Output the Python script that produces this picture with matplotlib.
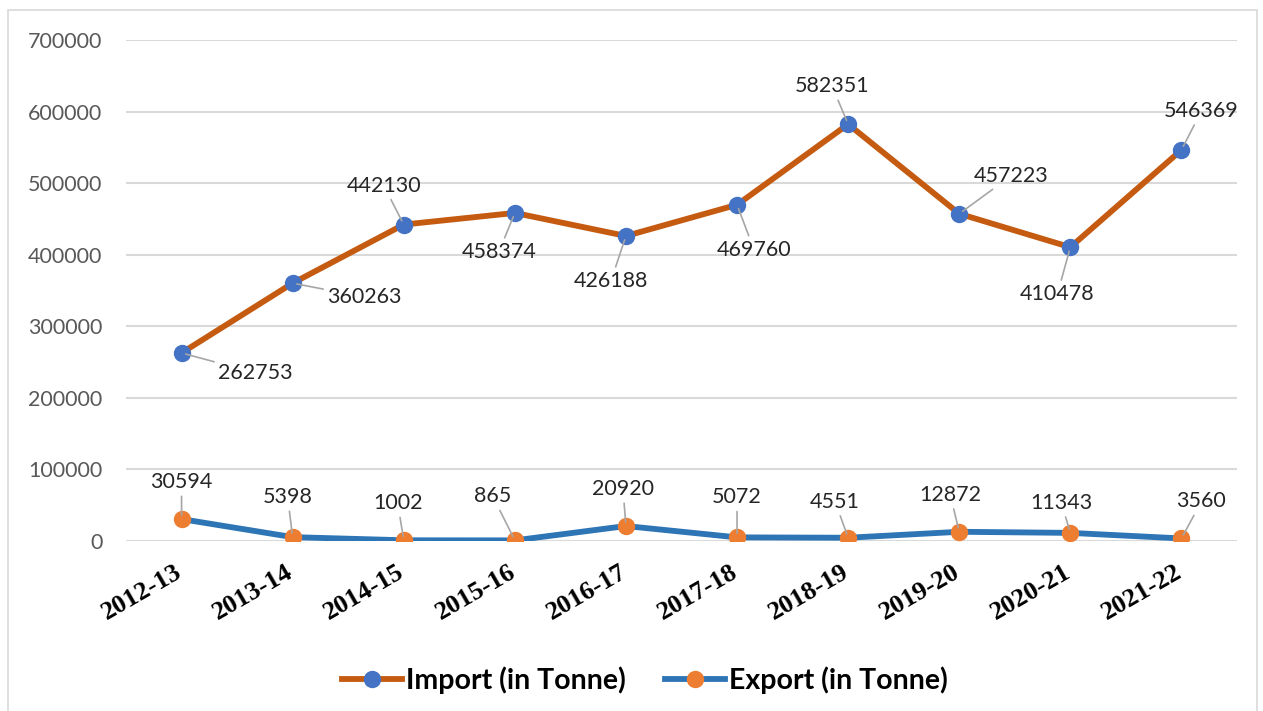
import matplotlib.pyplot as plt
from matplotlib.lines import Line2D
from matplotlib.patches import Rectangle
from matplotlib.transforms import ScaledTranslation

years = ['2012-13', '2013-14', '2014-15', '2015-16', '2016-17',
         '2017-18', '2018-19', '2019-20', '2020-21', '2021-22']
imports = [262753, 360263, 442130, 458374, 426188, 469760, 582351, 457223, 410478, 546369]
exports = [30594, 5398, 1002, 865, 20920, 5072, 4551, 12872, 11343, 3560]

# label offsets from the markers, in pixels
imp_off = [(74, -20), (72, -14), (-20, 39), (-16, -39), (-15, -45),
           (17, -45), (-16, 38), (52, 38), (-13, -47), (20, 39)]
exp_off = [(0, 37), (-5, 40), (-6, 37), (-22, 44), (-3, 37),
           (0, 40), (-13, 36), (-9, 37), (-9, 30), (20, 37)]

imp_line = '#C55A11'
imp_mark = '#4472C4'
exp_line = '#2E75B6'
exp_mark = '#ED7D31'

plt.rcParams['font.family'] = ['Lato', 'DejaVu Sans']

fig = plt.figure(figsize=(12.63, 7.11), dpi=100)
fig.patches.append(Rectangle((8 / 1263, -0.05), 1249 / 1263, 1 - 10 / 711 + 0.05,
                             transform=fig.transFigure, fill=False,
                             edgecolor='#D9D9D9', lw=1.2))

ax = fig.add_axes([126 / 1263, 1 - 541 / 711, 1111 / 1263, 501 / 711])
x = range(len(years))

ax.plot(x, imports, color=imp_line, lw=4.2, marker='o', ms=11.5,
        mfc=imp_mark, mec=imp_mark, zorder=3)
ax.plot(x, exports, color=exp_line, lw=4.2, marker='o', ms=11.5,
        mfc=exp_mark, mec=exp_mark, zorder=3)

for i in x:
    ax.annotate(str(imports[i]), (i, imports[i]), xytext=imp_off[i],
                textcoords='offset pixels', ha='center', va='center',
                fontsize=15.5, color='#262626',
                arrowprops=dict(arrowstyle='-', color='#A6A6A6', lw=1.2,
                                shrinkA=1, shrinkB=3))
    ax.annotate(str(exports[i]), (i, exports[i]), xytext=exp_off[i],
                textcoords='offset pixels', ha='center', va='center',
                fontsize=15.5, color='#262626',
                arrowprops=dict(arrowstyle='-', color='#A6A6A6', lw=1.2,
                                shrinkA=1, shrinkB=3))

ax.set_xlim(-0.5, 9.5)
ax.set_ylim(0, 700000)
ax.set_yticks(range(0, 700001, 100000))
ax.set_yticklabels([str(v) for v in range(0, 700001, 100000)],
                   fontsize=15.5, color='#595959')
ax.set_xticks(list(x))
ax.tick_params(axis='y', length=0, pad=17)
ax.tick_params(axis='x', length=0, pad=14)
ax.set_xticklabels(years, rotation=30, rotation_mode='anchor', ha='right',
                   va='top', fontsize=19, fontweight='bold',
                   family='Liberation Serif', color='black')
# nudge the rotated year labels so their right end sits on the tick
shift = ScaledTranslation(-7 / 100, 0, fig.dpi_scale_trans)
for lab in ax.get_xticklabels():
    lab.set_transform(lab.get_transform() + shift)
ax.grid(axis='y', color='#D9D9D9', lw=1.5)
ax.set_axisbelow(True)
for s in ax.spines.values():
    s.set_visible(False)

handles = [Line2D([], [], color=imp_line, lw=4.2, marker='o', ms=11.5,
                  mfc=imp_mark, mec=imp_mark),
           Line2D([], [], color=exp_line, lw=4.2, marker='o', ms=11.5,
                  mfc=exp_mark, mec=exp_mark)]
fig.legend(handles, ['Import (in Tonne)', 'Export (in Tonne)'], loc='center',
           bbox_to_anchor=(645 / 1263, 1 - 680 / 711), ncol=2, frameon=False,
           handlelength=2.1, handletextpad=0.15, columnspacing=1.4,
           prop={'size': 20.5, 'weight': 'bold'})

fig.savefig('out.png', dpi=100)
